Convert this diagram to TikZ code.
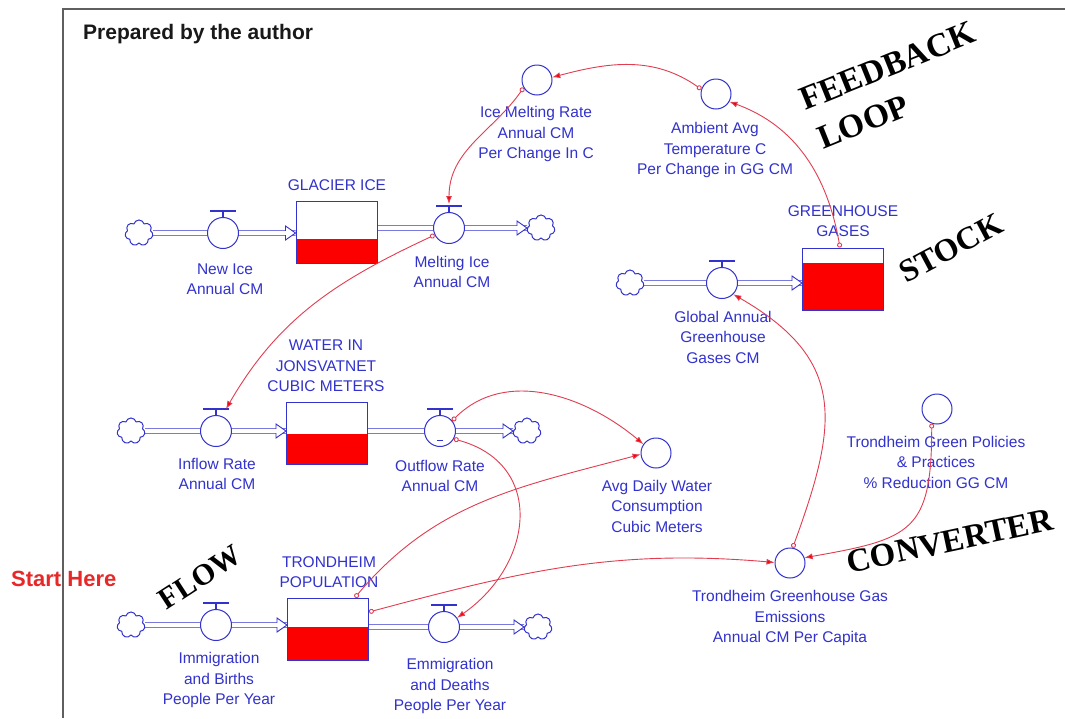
\documentclass[tikz,border=0pt]{standalone}
\usepackage{fontspec}
\setmainfont{Liberation Sans}
\newfontfamily\bigserif{Liberation Serif}
\usetikzlibrary{shapes.symbols,arrows.meta,backgrounds,calc}
\definecolor{sblue}{RGB}{50,50,205}
\definecolor{lred}{RGB}{225,60,80}
\definecolor{sred}{RGB}{252,0,0}
\definecolor{framec}{RGB}{95,95,95}
\tikzset{
 lbl/.style={text=sblue, font=\fontsize{15.5}{20.5}\selectfont, align=center, inner sep=0pt},
 valve/.style={circle, draw=sblue, fill=white, line width=1pt, minimum size=31pt, inner sep=0pt},
 conv/.style={circle, draw=sblue, fill=white, line width=1pt, minimum size=30pt, inner sep=0pt},
 sky/.style={cloud, cloud puffs=7, draw=sblue, fill=white, line width=1pt, aspect=1.1, minimum width=28pt, minimum height=26pt, inner sep=0pt},
 pipe/.style={draw=sblue, line width=0.9pt, double=white, double distance=3.6pt},
 link/.style={draw=lred, line width=0.9pt, {Circle[open,length=5pt,width=5pt]}-{Latex[length=8pt,width=6pt,fill=sred]}},
 big/.style={font=\bigserif\bfseries\fontsize{32}{38}\selectfont, inner sep=0pt, text=black},
 stockbox/.style={rectangle, draw=sblue, line width=1pt, minimum width=81pt, minimum height=62pt, inner sep=0pt,
   path picture={\fill[sred] (path picture bounding box.south west) rectangle ($(path picture bounding box.north east)!#1!(path picture bounding box.south east)$);}},
 ftip/.pic={\fill[white] (-10,-7) -- (0,0) -- (-10,7) -- cycle;
   \draw[sblue, line width=0.9pt, line join=miter] (-10,-2.2) -- (-10,-7) -- (0,0) -- (-10,7) -- (-10,2.2);}
}
\newcommand\valveT[1]{\draw[sblue, line width=1.3pt] (#1.north) -- ++(0,-6) ++(-13,0) -- ++(26,0);}
\begin{document}
\begin{tikzpicture}[x=1pt,y=-1pt]
\useasboundingbox (0,0) rectangle (1065,718);
\begin{scope}[on background layer]
 \fill[white] (0,0) rectangle (1065,718);
\end{scope}

% title texts
\node[anchor=west, inner sep=0pt, text={rgb,255:red,25;green,25;blue,25}, font=\bfseries\fontsize{21}{25}\selectfont] (prep) at (83,34) {Prepared by the author};
\node[anchor=west, inner sep=0pt, text={rgb,255:red,232;green,40;blue,40}, font=\bfseries\fontsize{22}{26}\selectfont] (start) at (11,579) {Start Here};
\draw[framec, line width=1.4pt] (63,718) -- (63,9) -- (1065,9);

% row 1: glacier
\node[sky] (c1) at (139,233) {};
\node[valve] (v1) at (223,233) {};
\node[stockbox=0.61] (s1) at (336.5,232) {};
\node[valve] (v2) at (449,228) {};
\node[sky] (c2) at (541,228) {};
% row 2: water
\node[sky] (c3) at (131,431) {};
\node[valve] (v3) at (216,431) {};
\node[stockbox=0.5] (s2) at (327,433.5) {};
\node[valve] (v4) at (440,431) {};
\node[sky] (c4) at (527,431) {};
% row 3: population
\node[sky] (c5) at (131,625) {};
\node[valve] (v5) at (216,625) {};
\node[stockbox=0.47] (s3) at (328,629) {};
\node[valve] (v6) at (444,627) {};
\node[sky] (c6) at (538,627) {};
% greenhouse row
\node[sky] (c7) at (630,283) {};
\node[valve] (v7) at (722,283) {};
\node[stockbox=0.24] (s4) at (843,279) {};
% converters
\node[conv] (im) at (537,80) {};
\node[conv] (amb) at (716,94) {};
\node[conv] (a1) at (656,453) {};
\node[conv] (tg) at (937,409) {};
\node[conv] (tghg) at (790,563) {};

% pipes
\begin{scope}[on background layer]
 \draw[pipe] (c1.east) -- (s1.west |- c1);
 \draw[pipe] (s1.east |- v2) -- (c2.west);
 \draw[pipe] (c3.east) -- (s2.west |- c3);
 \draw[pipe] (s2.east |- v4) -- (c4.west);
 \draw[pipe] (c5.east) -- (s3.west |- c5);
 \draw[pipe] (s3.east |- v6) -- (c6.west);
 \draw[pipe] (c7.east) -- (s4.west |- c7);
\end{scope}
\pic at (s1.west |- c1) {ftip};
\pic at (c2.west) {ftip};
\pic at (s2.west |- c3) {ftip};
\pic at (c4.west) {ftip};
\pic at (s3.west |- c5) {ftip};
\pic at (c6.west) {ftip};
\pic at (s4.west |- c7) {ftip};
\valveT{v1}\valveT{v2}\valveT{v3}\valveT{v4}\valveT{v5}\valveT{v6}\valveT{v7}
\draw[sblue, line width=0.9pt] ($(v4.center)+(-3,9)$) -- ++(6,0);

% labels
\node[lbl] (lv1) at (225,279) {New Ice\\Annual CM};
\node[lbl] (ls1) at (337,185) {GLACIER ICE};
\node[lbl] (lv2) at (452,272) {Melting Ice\\Annual CM};
\node[lbl] (lim) at (536,134) {Ice Melting Rate\\Annual CM\\Per Change In C};
\node[lbl] (lamb) at (715,150) {Ambient Avg\\Temperature C\\Per Change in GG CM};
\node[lbl] (ls4) at (843,221) {GREENHOUSE\\GASES};
\node[lbl] (lv7) at (723,337) {Global Annual\\Greenhouse\\Gases CM};
\node[lbl] (ls2) at (326,366) {WATER IN\\JONSVATNET\\CUBIC METERS};
\node[lbl] (lv3) at (217,474) {Inflow Rate\\Annual CM};
\node[lbl] (lv4) at (440,476) {Outflow Rate\\Annual CM};
\node[lbl] (la1) at (657,506) {Avg Daily Water\\Consumption\\Cubic Meters};
\node[lbl] (ltg) at (936,462) {Trondheim Green Policies\\\& Practices\\\% Reduction GG CM};
\node[lbl] (ltghg) at (790,618) {Trondheim Greenhouse Gas\\Emissions\\Annual CM Per Capita};
\node[lbl] (ls3) at (329,572) {TRONDHEIM\\POPULATION};
\node[lbl] (lv5) at (219,680) {Immigration\\and Births\\People Per Year};
\node[lbl] (lv6) at (450,686) {Emmigration\\and Deaths\\People Per Year};

% big annotations
\node[big, rotate=22, anchor=base west, font=\bigserif\bfseries\fontsize{33.5}{38}\selectfont] (fb) at (805,111) {FEEDBACK};
\node[big, rotate=22, anchor=base west, font=\bigserif\bfseries\fontsize{33.5}{38}\selectfont] (lp) at (823,150) {LOOP};
\node[big, rotate=28] (stk) at (951,248) {STOCK};
\node[big, rotate=12, font=\bigserif\bfseries\fontsize{33}{38}\selectfont] (cvt) at (950,541) {CONVERTER};
\node[big, rotate=33, font=\bigserif\bfseries\fontsize{30}{36}\selectfont] (flw) at (200,577) {FLOW};

% connectors
\draw[link] ($(s4.north)+(-3,0)$) to[out=100,in=-20] (amb.-30);
\draw[link] (amb.162) to[out=145,in=15] (im.10);
\draw[link] (im.210) to[out=235,in=90] ($(v2.north)+(0,-8)$);
\draw[link] (v2.206) to[out=205,in=60] ($(v3.north)+(10,-6)$);
\draw[link] (v4.40) to[out=45,in=140] (a1.145);
\draw[link] (v4.-30) to[out=-15,in=35,looseness=1.35] (v6.35);
\draw[link] ($(s3.north)+(27,0)$) to[out=50,in=195] (a1.185);
\draw[link] ($(s3.east)+(0,-17)$) to[out=15,in=175] (tghg.178);
\draw[link] (tghg.80) to[out=70,in=-30,looseness=1.3] (v7.-45);
\draw[link] (tg.250) to[out=270,in=10,looseness=1.5] (tghg.20);
\end{tikzpicture}
\end{document}
